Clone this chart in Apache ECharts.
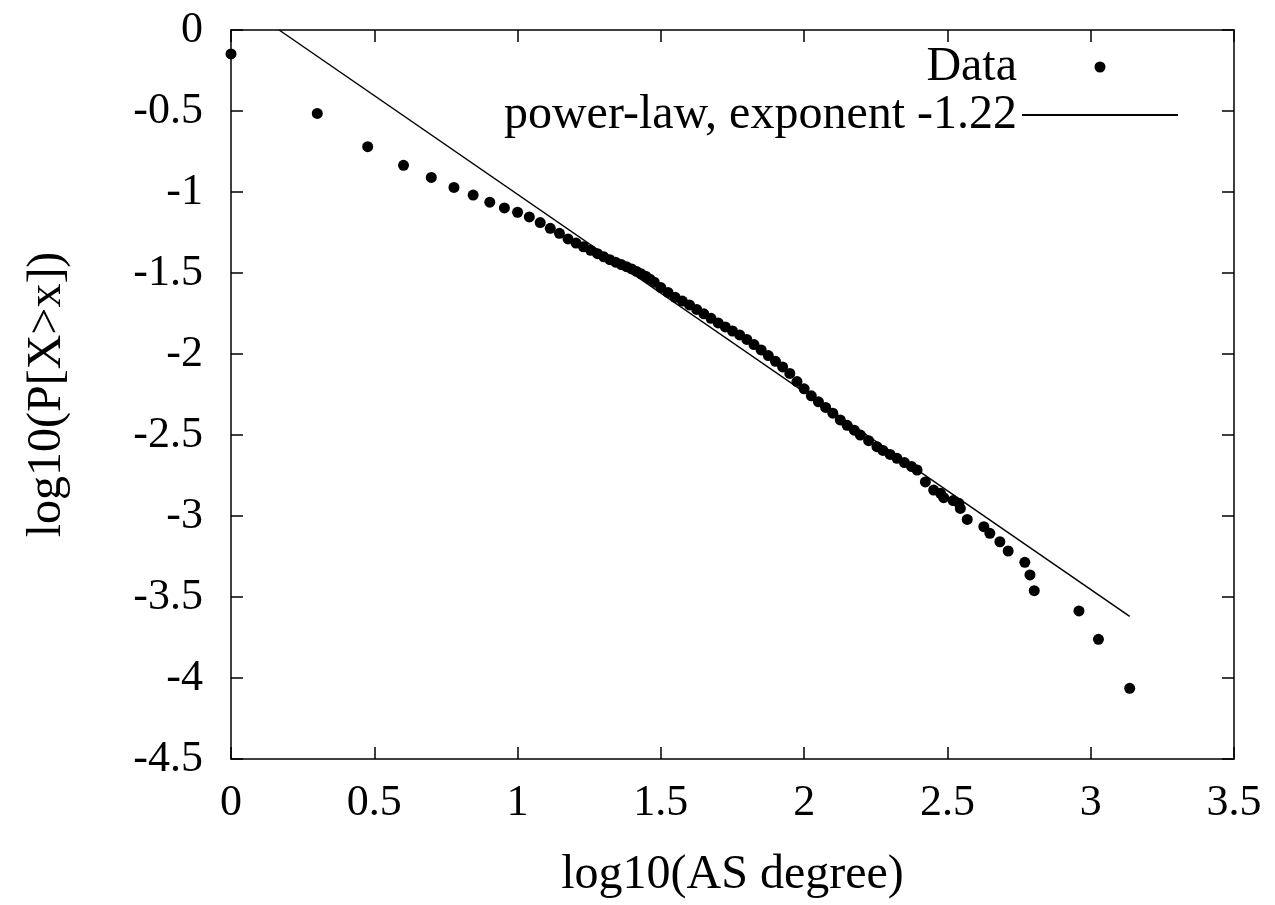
<!DOCTYPE html>
<html>
<head>
<meta charset="utf-8">
<title>AS degree CCDF</title>
<script src="https://cdn.jsdelivr.net/npm/echarts@6/dist/echarts.min.js"></script>
<style>
  html, body { margin: 0; padding: 0; background: #fff; }
  #main { width: 1275px; height: 905px; }
</style>
</head>
<body>
<div id="main"></div>
<script>
// log10(AS degree)
var degreeLog = [
  0, 0.301, 0.477, 0.602, 0.699, 0.778, 0.845, 0.903, 0.954, 1.000,
  1.041, 1.079, 1.114, 1.146, 1.176, 1.204, 1.230, 1.255, 1.279, 1.301,
  1.322, 1.342, 1.362, 1.380, 1.398, 1.415, 1.431, 1.447, 1.462, 1.477,
  1.500, 1.525, 1.550, 1.575, 1.600, 1.625, 1.650, 1.675, 1.700, 1.725,
  1.750, 1.775, 1.800, 1.825, 1.850, 1.875, 1.900, 1.925, 1.950, 1.975,
  2.000, 2.025, 2.050, 2.075, 2.100, 2.126, 2.150, 2.175, 2.196, 2.225,
  2.254, 2.275, 2.300, 2.324, 2.350, 2.375, 2.394, 2.423, 2.452, 2.476,
  2.487, 2.520, 2.540, 2.545, 2.569, 2.627, 2.648, 2.683, 2.712, 2.770,
  2.788, 2.803, 2.959, 3.027, 3.136
];
// log10(P[X>x])
var ccdfLog = [
  -0.148, -0.515, -0.720, -0.835, -0.910, -0.972, -1.019, -1.063, -1.098, -1.125,
  -1.154, -1.189, -1.224, -1.255, -1.290, -1.315, -1.338, -1.360, -1.381, -1.400,
  -1.418, -1.433, -1.448, -1.461, -1.475, -1.490, -1.505, -1.520, -1.538, -1.557,
  -1.590, -1.620, -1.650, -1.673, -1.697, -1.725, -1.752, -1.780, -1.808, -1.833,
  -1.858, -1.882, -1.910, -1.942, -1.975, -2.010, -2.045, -2.080, -2.120, -2.170,
  -2.215, -2.258, -2.295, -2.330, -2.365, -2.407, -2.440, -2.470, -2.500, -2.535,
  -2.572, -2.595, -2.620, -2.644, -2.670, -2.695, -2.716, -2.790, -2.840, -2.860,
  -2.887, -2.905, -2.922, -2.953, -3.021, -3.066, -3.107, -3.159, -3.216, -3.286,
  -3.364, -3.461, -3.586, -3.761, -4.064
];
// fitted power-law line end points
var fitX = [0.168, 3.136];
var fitY = [0, -3.62];

var xTicks = [0, 3.5, 0.5];   // min, max, interval
var yTicks = [-4.5, 0, 0.5];

var dataPts = degreeLog.map(function (v, i) { return [v, ccdfLog[i]]; });
var fitPts = fitX.map(function (v, i) { return [v, fitY[i]]; });

var font = '"Liberation Serif", "DejaVu Serif", serif';
var axisLine = { show: true, onZero: false, lineStyle: { color: '#000', width: 1.5 } };
var tick = { show: true, inside: true, length: 12, lineStyle: { color: '#000', width: 1.5 } };

var dom = document.getElementById('main');
var myChart = echarts.init(dom);
var option = {
    backgroundColor: '#fff',
    animation: false,
    grid: { left: 231, right: 41, top: 30, bottom: 146 },
    legend: {
        orient: 'vertical',
        right: 91,
        top: 38,
        align: 'right',
        itemWidth: 156,
        itemHeight: 11,
        itemGap: 0,
        textStyle: { fontFamily: font, fontSize: 48, color: '#000' },
        data: [
            { name: 'Data', icon: 'circle' },
            { name: 'power-law, exponent -1.22', itemStyle: { color: 'rgba(0,0,0,0)', borderWidth: 0 } }
        ]
    },
    xAxis: [
        {
            type: 'value', min: xTicks[0], max: xTicks[1], interval: xTicks[2],
            position: 'bottom',
            axisLine: axisLine, axisTick: tick, splitLine: { show: false },
            axisLabel: { margin: 22, fontFamily: font, fontSize: 44, color: '#000' },
            name: 'log10(AS degree)', nameLocation: 'middle', nameGap: 92,
            nameTextStyle: { fontFamily: font, fontSize: 48, color: '#000' }
        },
        {
            type: 'value', min: xTicks[0], max: xTicks[1], interval: xTicks[2],
            position: 'top',
            axisLine: axisLine, axisTick: tick, splitLine: { show: false },
            axisLabel: { show: false }
        }
    ],
    yAxis: [
        {
            type: 'value', min: yTicks[0], max: yTicks[1], interval: yTicks[2],
            position: 'left',
            axisLine: axisLine, axisTick: tick, splitLine: { show: false },
            axisLabel: { margin: 28, fontFamily: font, fontSize: 44, color: '#000' },
            name: 'log10(P[X>x])', nameLocation: 'middle', nameGap: 160,
            nameTextStyle: { fontFamily: font, fontSize: 48, color: '#000' }
        },
        {
            type: 'value', min: yTicks[0], max: yTicks[1], interval: yTicks[2],
            position: 'right',
            axisLine: axisLine, axisTick: tick, splitLine: { show: false },
            axisLabel: { show: false }
        }
    ],
    series: [
        {
            name: 'Data',
            type: 'scatter',
            symbol: 'circle',
            symbolSize: 11,
            clip: false,
            itemStyle: { color: '#000', opacity: 1 },
            data: dataPts
        },
        {
            name: 'power-law, exponent -1.22',
            type: 'line',
            symbol: 'none',
            showSymbol: false,
            lineStyle: { color: '#000', width: 1.5 },
            itemStyle: { color: '#000' },
            data: fitPts
        }
    ]
};
if (option && typeof option === "object") {
    myChart.setOption(option, true);
}
</script>
</body>
</html>
